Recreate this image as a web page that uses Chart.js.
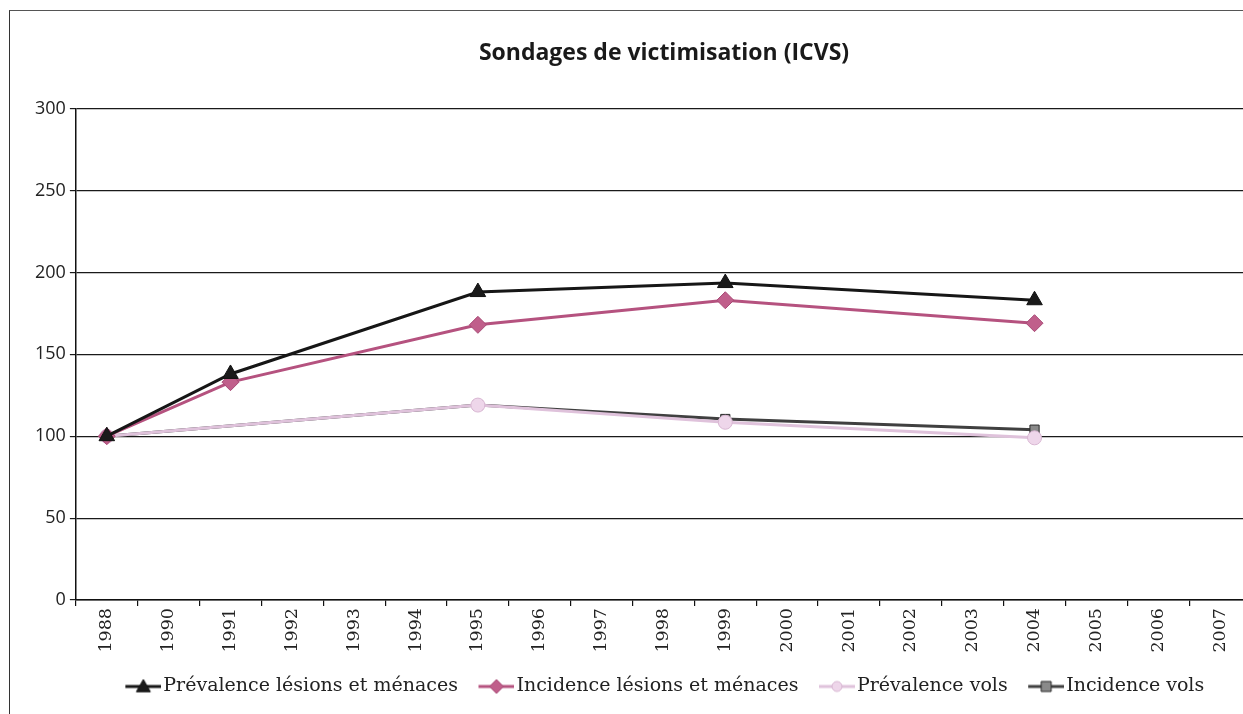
<!DOCTYPE html>
<html>
<head>
<meta charset="utf-8">
<script src="https://cdn.jsdelivr.net/npm/chart.js@4/dist/chart.umd.min.js"></script>
<style>
  html, body { margin: 0; padding: 0; background: #fff; overflow: hidden; width: 1243px; height: 714px; }
  #frame { position: absolute; left: 9px; top: 10px; width: 1400px; height: 800px; border-left: 1.5px solid #333; border-top: 1.5px solid #555; }
  #c { position: absolute; left: 0; top: 0; }
</style>
</head>
<body>
<div id="frame"></div>
<canvas id="c" width="1330" height="714"></canvas>
<script>
// ---- Data ----
const categories = ['1988','1990','1991','1992','1993','1994','1995','1996','1997','1998','1999','2000','2001','2002','2003','2004','2005','2006','2007'];
const surveyYears = ['1988','1991','1995','1999','2004'];
const prevalenceLesions = [100, 138, 188, 193.5, 183];
const incidenceLesions  = [100, 133, 168, 183, 169];
const prevalenceVolsYears = ['1988','1995','1999','2004'];
const prevalenceVols    = [100, 119, 108.5, 99];
const incidenceVolsYears = ['1988','1995','1999','2004'];
const incidenceVols     = [100, 119, 110.5, 104];
const yTicks = [0, 50, 100, 150, 200, 250, 300];

function toSeries(years, values) {
  return categories.map(c => { const i = years.indexOf(c); return i >= 0 ? values[i] : null; });
}

// legend icon: line + marker drawn at the right part of a wider transparent image
function legendIcon(lineColor, style, fill, border, r) {
  const cv = document.createElement('canvas');
  cv.width = 55; cv.height = 18;
  const ctx = cv.getContext('2d');
  const x0 = 19, cx = x0 + 18, cy = 9;
  ctx.strokeStyle = lineColor; ctx.lineWidth = 3;
  ctx.beginPath(); ctx.moveTo(x0, cy); ctx.lineTo(x0 + 36, cy); ctx.stroke();
  ctx.fillStyle = fill; ctx.strokeStyle = border; ctx.lineWidth = 1;
  ctx.beginPath();
  if (style === 'triangle') { ctx.moveTo(cx, cy - r); ctx.lineTo(cx + r, cy + r * 0.75); ctx.lineTo(cx - r, cy + r * 0.75); ctx.closePath(); }
  else if (style === 'rectRot') { ctx.moveTo(cx, cy - r); ctx.lineTo(cx + r, cy); ctx.lineTo(cx, cy + r); ctx.lineTo(cx - r, cy); ctx.closePath(); }
  else if (style === 'circle') { ctx.arc(cx, cy, r, 0, Math.PI * 2); }
  else { ctx.rect(cx - r, cy - r, 2 * r, 2 * r); }
  ctx.fill(); ctx.stroke();
  return cv;
}

const styles = [
  { label: 'Prévalence lésions et ménaces', line: '#161616', fill: '#1a1a1a', border: '#111', ps: 'triangle', r: 9, lr: 7 },
  { label: 'Incidence lésions et ménaces', line: '#b5527f', fill: '#c05f8b', border: '#a84a76', ps: 'rectRot', r: 8.5, lr: 7 },
  { label: 'Prévalence vols', line: '#dfc2db', fill: '#eed6ea', border: '#d8b6d2', ps: 'circle', r: 7, lr: 5 },
  { label: 'Incidence vols', line: '#404040', fill: '#8a8a8a', border: '#2a2a2a', ps: 'rect', r: 6.5, lr: 5 }
];
const seriesData = [
  toSeries(surveyYears, prevalenceLesions),
  toSeries(surveyYears, incidenceLesions),
  toSeries(prevalenceVolsYears, prevalenceVols),
  toSeries(incidenceVolsYears, incidenceVols)
];

const datasets = styles.map((s, i) => ({
  label: s.label,
  data: seriesData[i],
  borderColor: s.line,
  backgroundColor: s.fill,
  borderWidth: 3,
  pointStyle: s.ps,
  pointRadius: s.r,
  pointBackgroundColor: s.fill,
  pointBorderColor: s.border,
  pointBorderWidth: 1,
  spanGaps: true,
  tension: 0
}));

// shift title & legend horizontally (plot area runs past the right edge of the picture)
const shiftPlugin = {
  id: 'shiftBlocks',
  afterLayout(chart) {
    const t = chart.titleBlock; if (t) { t.left += 23; t.right += 23; }
    const l = chart.legend; if (l) { l.left += 18; l.right += 18; }
  }
};

new Chart(document.getElementById('c'), {
  type: 'line',
  data: { labels: categories, datasets },
  plugins: [shiftPlugin],
  options: {
    responsive: false,
    devicePixelRatio: 1,
    animation: false,
    layout: { padding: { left: 31, right: 79, top: 0, bottom: 8 } },
    plugins: {
      title: {
        display: true,
        text: 'Sondages de victimisation (ICVS)',
        color: '#1a1a1a',
        font: { family: 'Open Sans', size: 23, weight: 'bold' },
        padding: { top: 40, bottom: 41 }
      },
      legend: {
        position: 'bottom',
        labels: {
          color: '#222',
          font: { family: 'DejaVu Serif', size: 19 },
          usePointStyle: true,
          pointStyleWidth: 40,
          padding: 9,
          generateLabels: (chart) => styles.map((s, i) => ({
            text: s.label,
            pointStyle: legendIcon(s.line, s.ps, s.fill, s.border, s.lr),
            fillStyle: s.fill,
            strokeStyle: s.line,
            lineWidth: 0,
            datasetIndex: i,
            hidden: false,
            fontColor: '#222'
          }))
        }
      },
      tooltip: { enabled: false }
    },
    scales: {
      x: {
        offset: true,
        afterFit: (axis) => { axis.height = 68; },
        grid: { display: true, drawOnChartArea: false, drawTicks: true, tickLength: 6, offset: true, color: '#111', lineWidth: 1.2 },
        border: { display: true, color: '#111', width: 1.5 },
        ticks: {
          autoSkip: false, minRotation: 90, maxRotation: 90, padding: 2,
          color: '#222', font: { family: 'DejaVu Serif', size: 17.5 }
        }
      },
      y: {
        min: 0, max: 300,
        afterBuildTicks: (axis) => { axis.ticks = yTicks.map(v => ({ value: v })); },
        grid: { color: '#1a1a1a', lineWidth: 1.2, tickLength: 6 },
        border: { display: true, color: '#111', width: 1.5 },
        ticks: { color: '#222', padding: 4, font: { family: 'Open Sans', size: 18 } }
      }
    }
  }
});
</script>
</body>
</html>
